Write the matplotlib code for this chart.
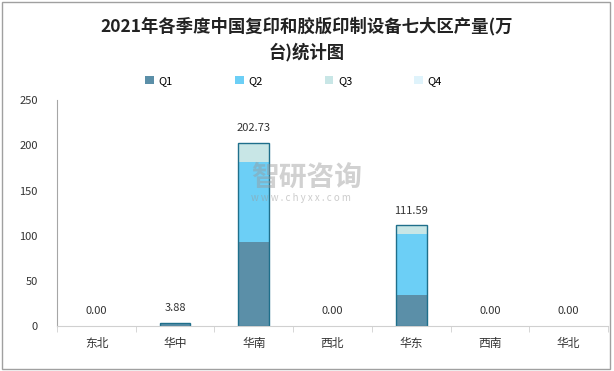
import matplotlib.pyplot as plt
import numpy as np

plt.rcParams['font.family'] = ['Noto Sans CJK SC', 'DejaVu Sans']

regions = ['东北', '华中', '华南', '西北', '华东', '西南', '华北']
q1 = [0, 3.88, 93.0, 0, 34.5, 0, 0]
q2 = [0, 0, 88.5, 0, 67.5, 0, 0]
q3 = [0, 0, 21.23, 0, 9.59, 0, 0]
q4 = [0, 0, 0, 0, 0, 0, 0]
totals = [0.00, 3.88, 202.73, 0.00, 111.59, 0.00, 0.00]

series = [('Q1', q1, '#5b8fa8'), ('Q2', q2, '#6ccff6'),
          ('Q3', q3, '#c8e6e6'), ('Q4', q4, '#dff3fb')]

fig = plt.figure(figsize=(6.14, 3.71), dpi=100)
ax = fig.add_axes([0.093, 0.121, 0.897, 0.609])

x = np.arange(len(regions))
w = 0.39
bottom = np.zeros(len(regions))
handles = []
for name, vals, col in series:
    vals = np.array(vals, dtype=float)
    b = ax.bar(x, vals, w, bottom=bottom, color=col, edgecolor='none', label=name)
    handles.append(b)
    bottom += vals

# outline around each non-empty stack
for xi, t in zip(x, totals):
    if t > 0:
        ax.bar(xi, t, w, fill=False, edgecolor='#1f6f8b', linewidth=1.0)

for xi, t in zip(x, totals):
    ax.annotate('%.2f' % t, (xi, t), xytext=(0, 7), textcoords='offset points',
                ha='center', va='bottom', fontsize=8, color='#333333')

ax.set_xlim(-0.5, len(regions) - 0.5)
ax.set_ylim(0, 250)
ax.set_yticks([0, 50, 100, 150, 200, 250])
ax.set_xticks(x)
ax.set_xticklabels(regions, fontsize=8.5, color='#333333')
ax.set_xticks(np.arange(-0.5, len(regions), 1), minor=True)
ax.tick_params(axis='x', which='major', length=0, pad=8)
ax.tick_params(axis='x', which='minor', length=4, color='#d0d0d0')
ax.tick_params(axis='y', length=0, labelsize=8, labelcolor='#333333', pad=14)
for s in ['top', 'right']:
    ax.spines[s].set_visible(False)
ax.spines['left'].set_color('#a6a6a6')
ax.spines['bottom'].set_color('#d0d0d0')

fig.text(0.5, 0.955, '2021年各季度中国复印和胶版印制设备七大区产量(万\n台)统计图',
         ha='center', va='top', fontsize=12.5, fontweight='bold', color='#222222',
         linespacing=1.5)

fig.legend(handles=handles, labels=[s[0] for s in series], loc='center',
           bbox_to_anchor=(0.478, 0.782), ncol=4, frameon=False, fontsize=8,
           handlelength=0.8, handleheight=0.8, columnspacing=5.6, handletextpad=0.4)

# watermark
fig.text(0.5, 0.52, '智研咨询', ha='center', va='center', fontsize=20,
         color='#999999', alpha=0.45, fontweight='bold')
fig.text(0.49, 0.465, 'w w w . c h y x x . c o m', ha='center', va='center',
         fontsize=7, color='#999999', alpha=0.5)

# outer frame
fig.patches.append(plt.Rectangle((0.004, 0.005), 0.99, 0.99, transform=fig.transFigure,
                                 fill=False, edgecolor='#a0a0a0', linewidth=1))

fig.savefig('out.png', dpi=100)
